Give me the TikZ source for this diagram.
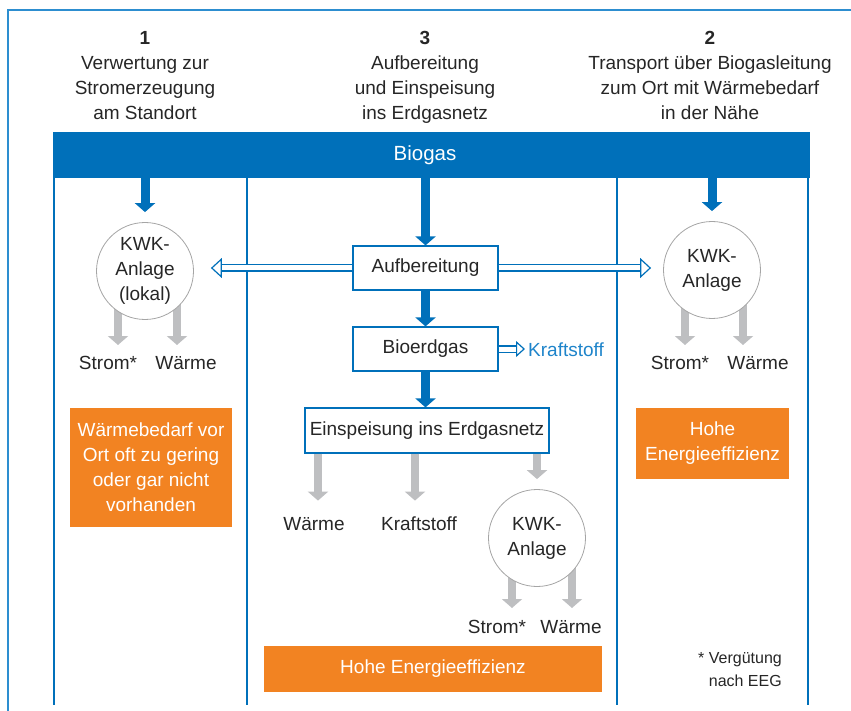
\documentclass[tikz,border=0pt]{standalone}
\usepackage{fontspec}
\setmainfont{Liberation Sans}
\usetikzlibrary{arrows.meta, positioning, calc, backgrounds}

\definecolor{biogasblue}{RGB}{0,112,186}
\definecolor{frameblue}{RGB}{45,142,208}
\definecolor{kraftblue}{RGB}{30,132,202}
\definecolor{effiorange}{RGB}{242,131,34}
\definecolor{flowgrey}{RGB}{190,191,193}
\definecolor{ringgrey}{RGB}{165,165,165}
\definecolor{textgrey}{RGB}{38,38,38}

\begin{document}
\begin{tikzpicture}[
    x=1pt, y=-1pt,
    font=\fontsize{19}{25}\selectfont, text=textgrey,
    head/.style={align=center, anchor=north, inner sep=0pt},
    bar/.style={rectangle, fill=biogasblue, minimum width=757pt, minimum height=46pt, inner sep=0pt},
    stage/.style={rectangle, draw=biogasblue, line width=1.2pt, fill=white, minimum width=145pt, minimum height=44pt, inner sep=0pt},
    kwk/.style={circle, draw=ringgrey, line width=0.8pt, fill=white, minimum size=97pt, inner sep=0pt, align=center},
    effi/.style={rectangle, fill=effiorange, text=white, align=center, inner sep=0pt},
    output/.style={inner sep=0pt},
    column/.style={draw=biogasblue, line width=2.5pt},
    feed/.style={-{Triangle[width=20pt, length=9pt]}, draw=biogasblue, line width=9pt},
    yield/.style={-{Triangle[width=20pt, length=9pt]}, draw=flowgrey, line width=8pt},
    hollow/.style={-{Triangle[open, width=20pt, length=11pt, line width=1.2pt, fill=white]}, draw=biogasblue, line width=1.2pt, double=white, double distance=5pt}
]
    \useasboundingbox (0,0) rectangle (851,711);

    % Frame
    \draw[frameblue, line width=1.5pt] (8,711) -- (8,10) -- (851,10);

    % Column heads
    \node[head] (h1) at (145,31) {\textbf{1}\\Verwertung zur\\Stromerzeugung\\am Standort};
    \node[head] (h3) at (425,31) {\textbf{3}\\Aufbereitung\\und Einspeisung\\ins Erdgasnetz};
    \node[head] (h2) at (710,31) {\textbf{2}\\Transport über Biogasleitung\\zum Ort mit Wärmebedarf\\in der Nähe};

    % Biogas bar and columns
    \node[bar] (bar) at (431.5,155) {};
    \node[text=white, font=\fontsize{20.5}{24}\selectfont] (biogas) at (425,155) {Biogas};
    \foreach \x in {54,247,617,808}
        \draw[column] (\x,178) -- (\x,705);

    % Nodes
    \node[kwk] (kwkL) at (145,271) {KWK-\\Anlage\\(lokal)};
    \node[stage] (aufb) at (425.5,268) {Aufbereitung};
    \node[kwk] (kwkR) at (712,270) {KWK-\\Anlage};
    \node[stage] (bioerd) at (425.5,349) {Bioerdgas};
    \node[output, anchor=west, text=kraftblue] (kraft) at (528,350) {Kraftstoff};
    \node[stage, minimum width=244pt, minimum height=45pt] (einsp) at (427,430.5) {Einspeisung ins Erdgasnetz};
    \node[kwk] (kwkB) at (537,538) {KWK-\\Anlage};

    % Outputs
    \node[output] (sL) at (108,363) {Strom*};
    \node[output] (wL) at (186,363) {Wärme};
    \node[output] (sR) at (680,363) {Strom*};
    \node[output] (wR) at (758,363) {Wärme};
    \node[output] (wE) at (314,524) {Wärme};
    \node[output] (kE) at (419,524) {Kraftstoff};
    \node[output] (sB) at (497,627) {Strom*};
    \node[output] (wB) at (571,627) {Wärme};

    % Efficiency boxes
    \node[effi, minimum width=162pt, minimum height=119pt] (effiL) at (151,467.5) {Wärmebedarf vor\\Ort oft zu gering\\oder gar nicht\\vorhanden};
    \node[effi, minimum width=153pt, minimum height=71pt] (effiR) at (712.5,443.5) {Hohe\\Energieeffizienz};
    \node[effi, minimum width=338pt, minimum height=46pt] (effiB) at (433,669) {Hohe Energieeffizienz};

    % Footnote
    \node[align=right, anchor=north east, inner sep=0pt, font=\fontsize{16}{23}\selectfont] (note) at (782,652) {* Vergütung\\nach EEG};

    % Biogas flow
    \draw[feed] (bar.south -| kwkL) -- ($(kwkL.north)+(0,-10)$);
    \draw[feed] (bar.south -| aufb) -- (aufb.north);
    \draw[feed] (bar.south -| kwkR) -- ($(kwkR.north)+(0,-10)$);
    \draw[feed] (aufb.south) -- (bioerd.north);
    \draw[feed] (bioerd.south) -- (bioerd.south |- einsp.north);

    % Transport to the plants
    \coordinate (toL) at ($(kwkL.east |- aufb.west)+(17,0)$);
    \coordinate (toR) at ($(kwkR.west |- aufb.east)+(-12,0)$);
    \draw[hollow] (aufb.west) -- (toL);
    \draw[hollow] (aufb.east) -- (toR);
    \draw[hollow, -{Triangle[open, width=16pt, length=9pt, line width=1.2pt, fill=white]}] (bioerd.east) -- ($(bioerd.east -| kraft.west)+(-3,0)$);

    % Products (behind the circles)
    \begin{scope}[on background layer]
        \draw[yield] ($(kwkL.center)+(-27,0)$) -- ($(kwkL.center)+(-27,74)$);
        \draw[yield] ($(kwkL.center)+(32,0)$) -- ($(kwkL.center)+(32,74)$);
        \draw[yield] ($(kwkR.center)+(-27,0)$) -- ($(kwkR.center)+(-27,75)$);
        \draw[yield] ($(kwkR.center)+(31,0)$) -- ($(kwkR.center)+(31,75)$);
        \draw[yield] ($(kwkB.center)+(-25,0)$) -- ($(kwkB.center)+(-25,70)$);
        \draw[yield] ($(kwkB.center)+(35,0)$) -- ($(kwkB.center)+(35,70)$);
    \end{scope}
    \draw[yield] ($(einsp.south)+(-109,0)$) -- ($(einsp.south)+(-109,47)$);
    \draw[yield] ($(einsp.south)+(-12,0)$) -- ($(einsp.south)+(-12,47)$);
    \draw[yield] (einsp.south -| kwkB) -- ($(kwkB.north)+(0,-10)$);

\end{tikzpicture}
\end{document}
